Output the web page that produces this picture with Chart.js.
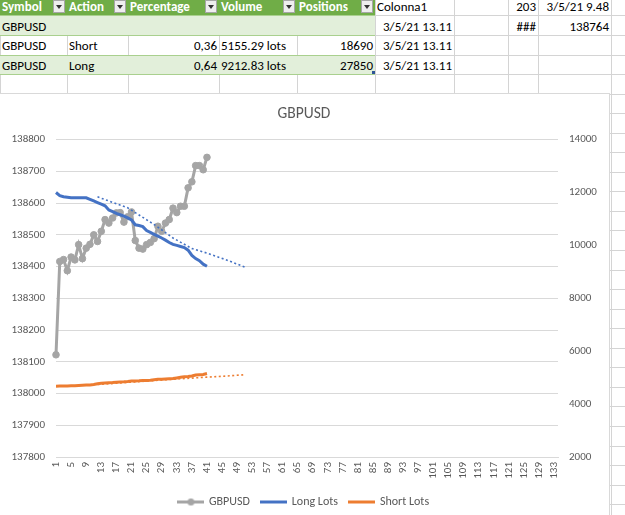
<!DOCTYPE html>
<html>
<head>
<meta charset="utf-8">
<script src="https://cdn.jsdelivr.net/npm/chart.js@4.4.1/dist/chart.umd.min.js"></script>
<style>
html, body { margin: 0; padding: 0; }
body { width: 625px; height: 515px; overflow: hidden; position: relative; background: #fff;
       font-family: Carlito, Calibri, Lato, sans-serif; }
.cell { position: absolute; box-sizing: border-box; font-size: 13px; white-space: nowrap; overflow: hidden;
        padding: 0 2px; color: #000; display: flex; align-items: center; }
.line { position: absolute; background: #d4d4d4; }
.btn { position: absolute; width: 12px; height: 13px; top: 0; background: #eeeeee; border: 1px solid #a6a6a6; box-sizing: border-box; }
.btn:after { content: ""; position: absolute; left: 2px; top: 4px; border-left: 3.5px solid transparent;
             border-right: 3.5px solid transparent; border-top: 4px solid #333; }
#frame { position: absolute; left: -1px; top: 93px; width: 609px; height: 430px; border: 1px solid #d9d9d9; background: #fff; }
#chart { position: absolute; left: 0; top: 0; }
</style>
</head>
<body>
<div id="sheet"></div>
<div id="frame"><canvas id="chart" width="608" height="425"></canvas></div>
<script>
// ===== DATA =====
const categories = Array.from({ length: 134 }, (_, i) => String(i + 1));

const gbpusd = [138122, 138416, 138422, 138387, 138430, 138421, 138469, 138425, 138458, 138470,
                138500, 138479, 138511, 138548, 138537, 138553, 138569, 138570, 138540, 138557,
                138572, 138482, 138458, 138455, 138469, 138476, 138488, 138527, 138511, 138537,
                138548, 138584, 138570, 138590, 138590, 138648, 138667, 138718, 138718, 138705,
                138744];

const longLots = [12000, 11880, 11840, 11820, 11800, 11800, 11800, 11800, 11800, 11740,
                  11680, 11620, 11560, 11495, 11340, 11280, 11210, 11160, 11110, 11040,
                  10960, 10780, 10750, 10710, 10560, 10490, 10420, 10350, 10280, 10200,
                  10110, 10040, 10000, 9960, 9920, 9820, 9620, 9500, 9420, 9290,
                  9213];

const shortLots = [4675, 4680, 4680, 4685, 4690, 4690, 4700, 4710, 4720, 4725,
                   4740, 4770, 4790, 4800, 4810, 4815, 4830, 4840, 4845, 4855,
                   4870, 4875, 4880, 4890, 4895, 4905, 4920, 4935, 4940, 4950,
                   4960, 4965, 4990, 5015, 5030, 5040, 5060, 5100, 5110, 5120,
                   5155];

// dotted trend lines (category number -> value)
const trendLongAt = [12, 20, 27, 32, 37, 41, 46, 51];
const trendLongVals = [11836, 11420, 10790, 10280, 9880, 9710, 9460, 9181];
const trendShortAt = [12, 20, 30, 41, 46, 51];
const trendShortVals = [4740, 4820, 4920, 5020, 5060, 5110];

const legendNames = ["GBPUSD", "Long Lots", "Short Lots"];
const seriesColors = ["#A5A5A5", "#4472C4", "#ED7D31"];

// ===== SPREADSHEET =====
const colEdges = [0, 67, 128, 219, 297, 375, 454, 508, 538, 611, 700];
const rowTop = -4.15, rowH = 19.55;
const headers = ["Symbol", "Action", "Percentage", "Volume", "Positions"];
const cells = [
  [0, 5, "Colonna1", "l"], [0, 7, "203", "r"], [0, 8, "3/5/21 9.48", "r"],
  [1, 0, "GBPUSD", "l"], [1, 5, "3/5/21 13.11", "r"], [1, 7, "###", "r"], [1, 8, "138764", "r"],
  [2, 0, "GBPUSD", "l"], [2, 1, "Short", "l"], [2, 2, "0,36", "r"], [2, 3, "5155.29 lots", "l"],
  [2, 4, "18690", "r"], [2, 5, "3/5/21 13.11", "r"],
  [3, 0, "GBPUSD", "l"], [3, 1, "Long", "l"], [3, 2, "0,64", "r"], [3, 3, "9212.83 lots", "l"],
  [3, 4, "27850", "r"], [3, 5, "3/5/21 13.11", "r"]
];

const sheet = document.getElementById("sheet");
function box(cls, x, y, w, h, bg) {
  const d = document.createElement("div");
  d.className = cls;
  d.style.left = x + "px"; d.style.top = y + "px";
  d.style.width = w + "px"; d.style.height = h + "px";
  if (bg) d.style.background = bg;
  sheet.appendChild(d);
  return d;
}

// gridlines
for (let r = 0; r < 28; r++) box("line", 0, rowTop + r * rowH, 625, 1);
colEdges.forEach(x => box("line", x, 0, 1, 515));

// table fills
const tableRight = colEdges[5];
box("line", 0, rowTop, tableRight, rowH, "#70AD47");
box("line", 0, rowTop + rowH, tableRight, rowH, "#E2EFDA");
box("line", 0, rowTop + 3 * rowH, tableRight, rowH, "#E2EFDA");
for (let r = 1; r <= 4; r++) box("line", 0, rowTop + r * rowH, tableRight, 1, "#A9D08E");
box("line", tableRight - 3, rowTop + 4 * rowH - 3, 3, 3, "#2F5597");

// header texts and filter buttons
headers.forEach((h, c) => {
  const d = box("cell", colEdges[c], rowTop, colEdges[c + 1] - colEdges[c], rowH);
  d.textContent = h;
  d.style.color = "#fff";
  d.style.fontWeight = "bold";
  d.style.paddingTop = "2px";
  box("btn", colEdges[c + 1] - 14, 0, 12, 13);
});

cells.forEach(([r, c, t, a]) => {
  const d = box("cell", colEdges[c], rowTop + r * rowH, colEdges[c + 1] - colEdges[c], rowH);
  d.textContent = t;
  d.style.paddingTop = "2px";
  if (a === "r") d.style.justifyContent = "flex-end";
});

// ===== LEGEND SYMBOLS =====
function legendImg(color, marker) {
  const c = document.createElement("canvas");
  c.width = 27; c.height = 9;
  const g = c.getContext("2d");
  g.strokeStyle = color; g.lineWidth = 3;
  g.beginPath(); g.moveTo(0, 4.5); g.lineTo(27, 4.5); g.stroke();
  if (marker) {
    g.fillStyle = color;
    g.beginPath(); g.arc(13.5, 4.5, 3.5, 0, Math.PI * 2); g.fill();
  }
  return c;
}
const legendImgs = [legendImg(seriesColors[0], true), legendImg(seriesColors[1]), legendImg(seriesColors[2])];

// ===== CHART =====
const fam = "Carlito, Calibri, Lato, sans-serif";
const font = { family: fam, size: 11 };
const txt = "#595959";

new Chart(document.getElementById("chart").getContext("2d"), {
  type: "line",
  data: {
    labels: categories,
    datasets: [
      { label: "GBPUSD", data: gbpusd, yAxisID: "y", borderColor: seriesColors[0], backgroundColor: seriesColors[0],
        borderWidth: 3, pointRadius: 3.3, pointBorderWidth: 1, tension: 0, order: 3 },
      { label: "Long Lots", data: longLots, yAxisID: "y1", borderColor: seriesColors[1],
        borderWidth: 3, pointRadius: 0, tension: 0, order: 1 },
      { label: "Short Lots", data: shortLots, yAxisID: "y1", borderColor: seriesColors[2],
        borderWidth: 3, pointRadius: 0, tension: 0, order: 1 },
      { label: "trend long", data: trendLongAt.map((c, i) => ({ x: String(c), y: trendLongVals[i] })),
        yAxisID: "y1", borderColor: seriesColors[1], borderWidth: 1.6, borderDash: [2, 2.5],
        pointRadius: 0, tension: 0, spanGaps: true, order: 2 },
      { label: "trend short", data: trendShortAt.map((c, i) => ({ x: String(c), y: trendShortVals[i] })),
        yAxisID: "y1", borderColor: seriesColors[2], borderWidth: 1.6, borderDash: [2, 2.5],
        pointRadius: 0, tension: 0, spanGaps: true, order: 2 }
    ]
  },
  options: {
    responsive: false,
    animation: false,
    layout: { padding: { left: 0, right: 0, top: 0, bottom: 1 } },
    plugins: {
      tooltip: { enabled: false },
      title: {
        display: true, text: "GBPUSD", color: txt,
        font: { family: fam, size: 15.5, weight: "normal" },
        padding: { top: 11, bottom: 16 }
      },
      legend: {
        position: "bottom",
        labels: {
          usePointStyle: true, pointStyleWidth: 24, padding: 12,
          color: txt, font: { family: fam, size: 12 },
          generateLabels: () => legendNames.map((name, i) => ({
            text: name, pointStyle: legendImgs[i], fillStyle: seriesColors[i],
            strokeStyle: seriesColors[i], lineWidth: 0, hidden: false, datasetIndex: i, fontColor: txt
          }))
        }
      }
    },
    scales: {
      x: {
        grid: { display: false, drawTicks: false },
        border: { display: true, color: "#d9d9d9" },
        ticks: {
          autoSkip: false, minRotation: 90, maxRotation: 90, padding: 5,
          color: txt, font: font,
          callback: (v, i) => (i % 4 === 0 ? categories[i] : "")
        },
        afterFit: s => { s.height = 27; }
      },
      y: {
        position: "left", min: 137800, max: 138800,
        grid: { color: "#d9d9d9", drawTicks: false },
        border: { display: false },
        ticks: { stepSize: 100, padding: 11, color: txt, font: font, callback: v => String(v) },
        afterFit: s => { s.width = 56; }
      },
      y1: {
        position: "right", min: 2000, max: 14000,
        grid: { drawOnChartArea: false, drawTicks: false },
        border: { display: false },
        ticks: { stepSize: 2000, padding: 11, color: txt, font: font, callback: v => String(v) },
        afterFit: s => { s.width = 50; }
      }
    }
  }
});
</script>
</body>
</html>
